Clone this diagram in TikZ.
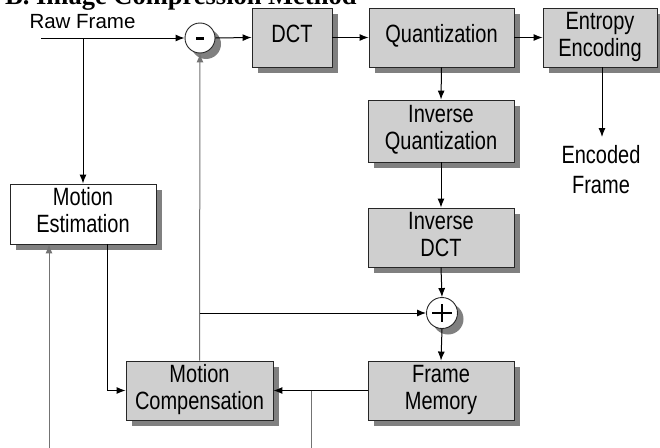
\documentclass[tikz,border=0pt]{standalone}
\usepackage{fontspec}
\usepackage{graphicx}
\setmainfont{Liberation Sans}
\newfontfamily\ttlfont{Liberation Serif}
\newcommand{\cl}[1]{\raisebox{-2.5pt}{\scalebox{0.8}[1]{\begin{tabular}{@{}c@{}}#1\end{tabular}}}}
\usetikzlibrary{arrows.meta,shadows,calc}
\begin{document}
\begin{tikzpicture}[x=1pt,y=-1pt,
  lab/.style={font=\fontsize{25}{27}\selectfont},
  shd/.style={drop shadow={shadow xshift=6pt, shadow yshift=-6pt, fill=black!50, opacity=1}},
  blk/.style={draw=black!85, line width=0.9pt, fill=black!19, align=center, inner sep=0pt, lab, shd},
  wblk/.style={blk, fill=white},
  sumc/.style={circle, draw=black!85, line width=0.9pt, fill=white, minimum size=30pt, inner sep=0pt, shd},
  arr/.style={draw=black, line width=1pt, -{Latex[length=9pt,width=7pt]}},
  ln/.style={draw=black, line width=1pt},
  gln/.style={draw=black!55, line width=1pt},
  garr/.style={arr, draw=black!55}]
\useasboundingbox (0,0) rectangle (660,447);
\fill[white] (0,0) rectangle (660,447);

% title (cut at top edge)
\node[anchor=base west, inner sep=0pt, font=\ttlfont\bfseries\fontsize{26.5}{30}\selectfont] (title) at (5,5) {B. Image Compression Method};

% labels
\node[anchor=base, inner sep=0pt, font=\fontsize{20.5}{24}\selectfont] (raw) at (82.5,28) {Raw Frame};
\node[inner sep=0pt, font=\fontsize{25}{30}\selectfont] (enc) at (601,172) {\cl{Encoded\\Frame}};

% blocks
\node[sumc] (minus) at (200,38) {};
\node[blk, minimum width=80pt, minimum height=59pt] (dct) at (292,37.5) {\cl{DCT}};
\node[blk, minimum width=145pt, minimum height=59pt] (quant) at (441.5,37.5) {\cl{Quantization}};
\node[blk, minimum width=114pt, minimum height=59pt] (ent) at (600,37.5) {\cl{Entropy\\Encoding}};
\node[blk, minimum width=146pt, minimum height=62pt] (iq) at (441,131) {\cl{Inverse\\Quantization}};
\node[blk, minimum width=146pt, minimum height=59pt] (idct) at (441,237.5) {\cl{Inverse\\DCT}};
\node[sumc, minimum height=31pt] (plus) at (442,313) {};
\node[blk, minimum width=146pt, minimum height=59pt] (fm) at (441,390.5) {\cl{Frame\\Memory}};
\node[blk, minimum width=147pt, minimum height=59pt] (mc) at (199.5,390.5) {\cl{Motion\\Compensation}};
\node[wblk, minimum width=146pt, minimum height=60pt] (me) at (83,214) {\cl{Motion\\Estimation}};

% signs
\draw[line width=3pt] ($(minus)+(-4,0)$) -- ($(minus)+(4,0)$);
\draw[line width=2.6pt] ($(plus)+(-10,0)$) -- ($(plus)+(10,0)$);
\draw[line width=2.6pt] ($(plus)+(0,-9)$) -- ($(plus)+(0,9)$);

% coordinates
\coordinate (rawin) at (41,38);
\coordinate (b1) at (83,38);
\coordinate (encend) at (602,137);
\coordinate (fb) at (mc.north |- plus.west);
\coordinate (b2) at (311,390.5);
\coordinate (bot2) at (311,450);
\coordinate (bot1) at (49,450);
\coordinate (m1) at (107,0);

% connectors
\draw[arr] (rawin) -- (minus.west);
\draw[arr] (b1) -- (me.north);
\draw[arr] (minus.east) -- (dct.west);
\draw[arr] (dct.east) -- (quant.west);
\draw[arr] (quant.east) -- (ent.west);
\draw[arr] (quant.south) -- (iq.north);
\draw[arr] (iq.south) -- (idct.north);
\draw[arr] (idct.south) -- (plus.north);
\draw[arr] (plus.south) -- (fm.north);
\draw[arr] (ent.south -| encend) -- (encend);
\draw[garr] (mc.north) -- (minus.south);
\draw[arr] (fb) -- (plus.west);
\draw[arr] (fm.west) -- (mc.east);
\draw[gln] (b2) -- (bot2);
\draw[garr] (bot1) -- (me.south -| bot1);
\draw[arr] (me.south -| m1) |- (mc.west);
\end{tikzpicture}
\end{document}
